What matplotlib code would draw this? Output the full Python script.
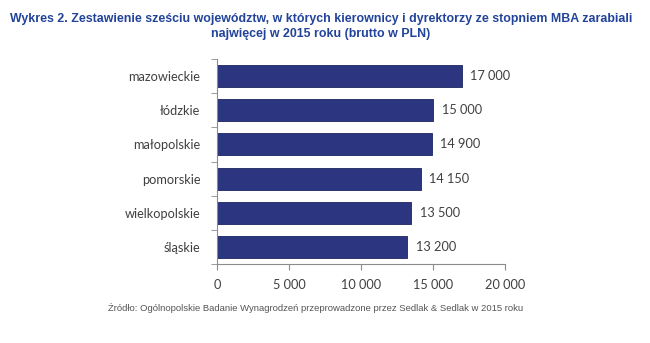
import numpy as np
import matplotlib.pyplot as plt
from matplotlib.ticker import FuncFormatter

# wojewodztwa i wynagrodzenia brutto (PLN)
regions = ['mazowieckie', 'łódzkie', 'małopolskie', 'pomorskie', 'wielkopolskie', 'śląskie']
salaries = [17000, 15000, 14900, 14150, 13500, 13200]
x_ticks = [0, 5000, 10000, 15000, 20000]

bar_color = '#2b3580'
title_color = '#22439a'
grey = '#8c8c8c'


def fmt(v, pos=None):
    # separator tysiecy jako spacja
    return f'{int(v):,}'.replace(',', ' ')


fig = plt.figure(figsize=(6.5, 3.43), dpi=100)
ax = fig.add_axes([217 / 650, 1 - 264 / 343, 288 / 650, 205 / 343])

y = np.arange(len(regions))
ax.barh(y, salaries, height=0.64, color=bar_color, edgecolor='#1c2460', linewidth=0.6)
for yi, v in zip(y, salaries):
    ax.text(v + 600, yi, fmt(v), va='center', ha='left', fontsize=9.2,
            family='Lato', color='#404040')

ax.set_ylim(len(regions) - 0.5, -0.5)
ax.set_xlim(0, 20000)
ax.set_xticks(x_ticks)
ax.xaxis.set_major_formatter(FuncFormatter(fmt))
ax.set_yticks(y)
ax.set_yticklabels(regions)
ax.set_yticks(np.arange(-0.5, len(regions)), minor=True)
ax.tick_params(axis='y', which='major', length=0, pad=12)
ax.tick_params(axis='y', which='minor', length=4, color=grey, direction='out')
ax.tick_params(axis='x', length=4, color=grey, direction='out', pad=7)
for lab in ax.get_xticklabels() + ax.get_yticklabels():
    lab.set_fontfamily('Lato')
    lab.set_fontsize(9.2)
    lab.set_color('#404040')

for s in ['top', 'right']:
    ax.spines[s].set_visible(False)
ax.spines['left'].set_color(grey)
ax.spines['bottom'].set_color(grey)

fig.text(0.5 - 4 / 650, 1 - 19 / 343, 'Wykres 2. Zestawienie sześciu województw, w których kierownicy i dyrektorzy ze stopniem MBA zarabiali',
         ha='center', va='center', fontsize=8.95, fontweight='bold', color=title_color, family='Liberation Sans')
fig.text(0.5 - 4 / 650, 1 - 34 / 343, 'najwięcej w 2015 roku (brutto w PLN)',
         ha='center', va='center', fontsize=8.95, fontweight='bold', color=title_color, family='Liberation Sans')
fig.text(108 / 650, 1 - 308 / 343,
         'Źródło: Ogólnopolskie Badanie Wynagrodzeń przeprowadzone przez Sedlak & Sedlak w 2015 roku',
         ha='left', va='center', fontsize=6.8, color='#555555', family='Liberation Sans')

fig.savefig('out.png', dpi=100, facecolor='white')
